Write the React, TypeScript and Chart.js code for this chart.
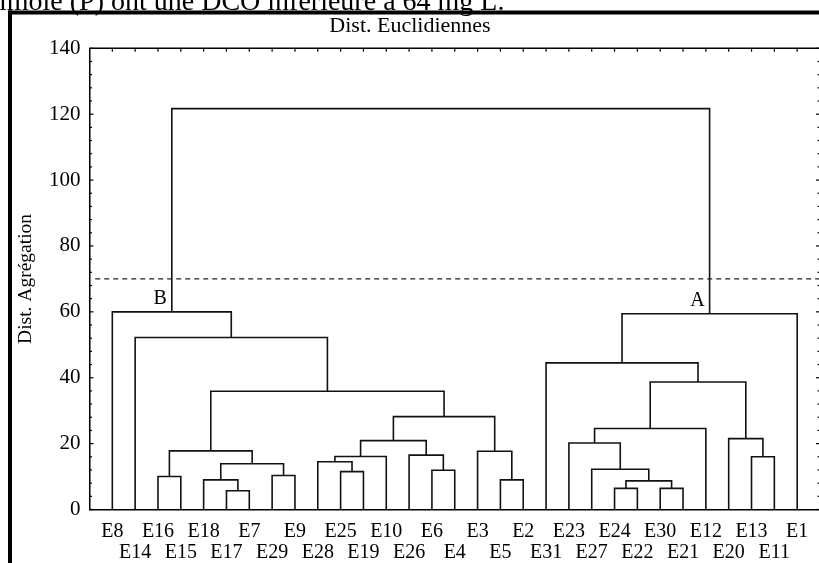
import React, { useEffect, useRef } from 'react';
import { Chart, registerables } from 'chart.js';

Chart.register(...registerables);

// ---- data ----
const leaves = [
  'E8', 'E14', 'E16', 'E15', 'E18', 'E17', 'E7', 'E29', 'E9', 'E28', 'E25',
  'E19', 'E10', 'E26', 'E6', 'E4', 'E3', 'E5', 'E2', 'E31', 'E23', 'E27',
  'E24', 'E22', 'E30', 'E21', 'E12', 'E20', 'E13', 'E11', 'E1',
];

// agglomeration steps: node id, left child, right child, aggregation distance
const mergeIds = [
  'm1', 'm2', 'm3', 'm4', 'm5', 'm6', 'm7', 'm8', 'm9', 'm10',
  'm11', 'm12', 'm13', 'm14', 'm15', 'm16', 'm17', 'm18', 'm19', 'm20',
  'm21', 'm22', 'm23', 'm24', 'm25', 'm26', 'm27', 'm28', 'm29', 'm30',
];
const mergeLeft = [
  'E17', 'E18', 'E16', 'E29', 'm2', 'm3', 'E25', 'E28', 'm8', 'E6',
  'E26', 'm9', 'E5', 'E3', 'm12', 'm6', 'E14', 'E8', 'E24', 'E30',
  'm19', 'E27', 'E23', 'm23', 'E13', 'E20', 'm24', 'E31', 'm28', 'm18',
];
const mergeRight = [
  'E7', 'm1', 'E15', 'E9', 'm4', 'm5', 'E19', 'm7', 'E10', 'E4',
  'm10', 'm11', 'E2', 'm13', 'm14', 'm15', 'm16', 'm17', 'E22', 'E21',
  'm20', 'm21', 'm22', 'E12', 'E11', 'm25', 'm26', 'm27', 'E1', 'm29',
];
const mergeHeight = [
  5.7, 9.0, 10.0, 10.3, 13.9, 17.8, 11.5, 14.5, 16.1, 11.9,
  16.5, 20.9, 9.0, 17.7, 28.2, 35.9, 52.2, 60.0, 6.4, 6.4,
  8.7, 12.2, 20.2, 24.6, 16.0, 21.5, 38.7, 44.5, 59.4, 121.7,
];

const clusterNodes = ['m18', 'm29'];
const clusterLabels = ['B', 'A'];

const cutLevel = 70;
const yMin = 0;
const yMax = 140;
const yStep = 20;
const yMinorStep = 4;

const FONT = "'Liberation Serif', 'Times New Roman', serif";

function buildTree() {
  const pos: Record<string, { x: number; y: number }> = {};
  leaves.forEach((name, i) => {
    pos[name] = { x: i, y: 0 };
  });
  const links: { x: number; y: number }[][] = [];
  mergeIds.forEach((id, k) => {
    const l = pos[mergeLeft[k]];
    const r = pos[mergeRight[k]];
    const h = mergeHeight[k];
    links.push([
      { x: l.x, y: l.y },
      { x: l.x, y: h },
      { x: r.x, y: h },
      { x: r.x, y: r.y },
    ]);
    pos[id] = { x: (l.x + r.x) / 2, y: h };
  });
  return { pos, links };
}

export default function App() {
  const canvasRef = useRef<HTMLCanvasElement | null>(null);

  useEffect(() => {
    document.body.style.margin = '0';
    document.body.style.overflow = 'hidden';
    document.documentElement.style.overflow = 'hidden';
    const canvas = canvasRef.current;
    if (!canvas) return;
    const { pos, links } = buildTree();

    const datasets: any[] = links.map((pts) => ({
      data: pts,
      showLine: true,
      borderColor: '#111',
      borderWidth: 1.6,
      pointRadius: 0,
      pointHoverRadius: 0,
      tension: 0,
      fill: false,
    }));
    datasets.push({
      data: [
        { x: -0.75, y: cutLevel },
        { x: leaves.length, y: cutLevel },
      ],
      showLine: true,
      borderColor: '#222',
      borderWidth: 1.4,
      borderDash: [5, 4],
      pointRadius: 0,
      pointHoverRadius: 0,
      fill: false,
    });

    const extras = {
      id: 'extras',
      afterDraw(chart: any) {
        const { ctx, chartArea, scales } = chart;
        const { left, right, top } = chartArea;
        const x = scales.x;
        const y = scales.y;
        const line = (x1: number, y1: number, x2: number, y2: number) => {
          ctx.beginPath();
          ctx.moveTo(x1, y1);
          ctx.lineTo(x2, y2);
          ctx.stroke();
        };
        ctx.save();
        ctx.strokeStyle = '#000';
        ctx.lineWidth = 1.5;
        line(left, top, right, top);
        ctx.lineWidth = 1.2;
        for (let v = yMin; v <= yMax; v += yMinorStep) {
          const py = y.getPixelForValue(v);
          const len = v % yStep === 0 ? 4 : 2.5;
          line(left, py, left + len, py);
          line(right, py, right - len, py);
        }
        leaves.forEach((_, i) => {
          const px = x.getPixelForValue(i);
          line(px, top, px, top + 3.5);
        });
        // outer frame of the figure
        ctx.lineWidth = 4;
        line(10, 10.5, 10, chart.height);
        line(8, 12.5, chart.width, 12.5);
        // cluster labels
        ctx.fillStyle = '#000';
        ctx.font = `20px ${FONT}`;
        ctx.textAlign = 'right';
        ctx.textBaseline = 'alphabetic';
        clusterNodes.forEach((id, k) => {
          const p = pos[id];
          ctx.fillText(
            clusterLabels[k],
            x.getPixelForValue(p.x) - 5,
            y.getPixelForValue(p.y) - 7.5
          );
        });
        ctx.restore();
      },
    };

    const chart = new Chart(canvas, {
      type: 'scatter',
      data: { datasets },
      plugins: [extras],
      options: {
        animation: false,
        responsive: false,
        devicePixelRatio: 1,
        layout: { padding: { left: 0, right: 1, top: 0, bottom: 0 } },
        plugins: {
          legend: { display: false },
          tooltip: { enabled: false },
          title: {
            display: true,
            text: 'Dist. Euclidiennes',
            color: '#000',
            font: { family: FONT, size: 22, weight: 'normal', lineHeight: 1.2 },
            padding: { top: 13.5, bottom: 8.4 },
          },
        },
        scales: {
          x: {
            type: 'linear',
            min: -1,
            max: leaves.length,
            afterFit: (s: any) => {
              s.height = 53.5;
            },
            afterBuildTicks: (s: any) => {
              s.ticks = leaves.map((_, i) => ({ value: i }));
            },
            ticks: {
              autoSkip: false,
              maxRotation: 0,
              minRotation: 0,
              padding: 12,
              color: '#000',
              font: { family: FONT, size: 20, lineHeight: '21px' },
              callback: (v: any) => {
                const i = Math.round(Number(v));
                if (i < 0 || i >= leaves.length) return '';
                return i % 2 === 0 ? leaves[i] : ['', leaves[i]];
              },
            },
            grid: { display: false, drawTicks: false },
            border: { display: true, color: '#000', width: 1.5 },
          },
          y: {
            type: 'linear',
            position: 'left',
            min: yMin,
            max: yMax,
            afterFit: (s: any) => {
              s.width = 89.5;
            },
            ticks: {
              stepSize: yStep,
              padding: 9,
              color: '#000',
              font: { family: FONT, size: 21 },
            },
            grid: { display: false, drawTicks: false },
            border: { display: true, color: '#000', width: 1.5 },
            title: {
              display: true,
              text: 'Dist. Agrégation',
              color: '#000',
              font: { family: FONT, size: 19.5, lineHeight: 1.2 },
              padding: { top: 14.5, bottom: 0 },
            },
          },
        },
      } as any,
    });
    return () => chart.destroy();
  }, []);

  return (
    <div style={{ position: 'relative', width: 821, height: 563, overflow: 'hidden' }}>
      <canvas ref={canvasRef} width={821} height={563} style={{ position: 'absolute', left: 0, top: 0 }} />
      <div
        style={{
          position: 'absolute',
          left: -1,
          top: -13,
          fontFamily: FONT,
          fontSize: 28,
          lineHeight: 1,
          whiteSpace: 'nowrap',
          color: '#000',
          zIndex: 2,
        }}
      >
        imole (P) ont une DCO inférieure à 64 mg L.
      </div>
    </div>
  );
}
